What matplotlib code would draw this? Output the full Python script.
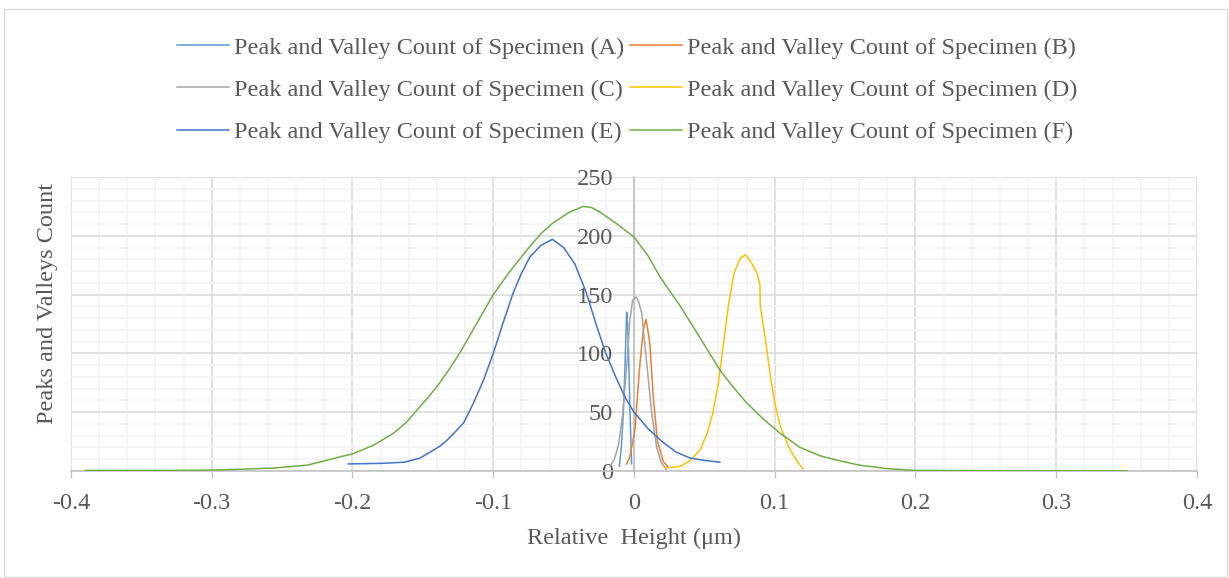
import numpy as np
import matplotlib.pyplot as plt
from matplotlib.patches import Rectangle

plt.rcParams['font.family'] = ['Liberation Serif', 'DejaVu Serif']

# ---- data ----
a_x = [-0.0104, -0.009, -0.0076, -0.0065, -0.0059, -0.0052, -0.0046, -0.004, -0.0028, -0.0017]
a_y = [4, 20, 49, 85, 110, 135, 125, 106, 49, 6]

b_x = [-0.0052, -0.003, -0.001, 0.0007, 0.0025, 0.0043, 0.0066, 0.0085, 0.0105, 0.0114,
       0.0137, 0.0166, 0.0208, 0.024]
b_y = [6, 12, 24, 35, 65, 92, 120, 129, 115, 106, 63, 26, 8, 4]

c_x = [-0.017, -0.014, -0.011, -0.008, -0.005, -0.003, -0.001, 0.0014, 0.003, 0.0055,
       0.009, 0.0126, 0.016, 0.019, 0.023]
c_y = [4, 10, 22, 49, 92, 128, 145, 148, 145, 134, 92, 49, 21, 8, 1]

d_x = [0.022, 0.027, 0.033, 0.04, 0.047, 0.052, 0.056, 0.06, 0.063, 0.067, 0.071, 0.075,
       0.079, 0.083, 0.0875, 0.0895, 0.0897, 0.093, 0.0966, 0.1, 0.104, 0.108, 0.111,
       0.115, 0.12]
d_y = [3, 3, 4, 9, 18, 32, 49, 75, 103, 140, 168, 180, 184, 178, 168, 158, 140, 115, 83,
       58, 38, 26, 18, 10, 1.7]

e_x = [-0.203, -0.18, -0.163, -0.152, -0.145, -0.138, -0.133, -0.128, -0.121, -0.114,
       -0.107, -0.1, -0.093, -0.086, -0.08, -0.074, -0.066, -0.058, -0.05, -0.042, -0.034,
       -0.027, -0.02, -0.013, -0.006, 0.0, 0.01, 0.02, 0.03, 0.04, 0.05, 0.061]
e_y = [6, 6.5, 7.5, 11, 16, 21, 26, 32, 41, 58, 77, 100, 126, 151, 168, 182, 192, 197,
       190, 176, 152, 125, 100, 80, 62, 50, 36, 25, 16, 11, 9, 7.5]

f_x = [-0.39, -0.33, -0.30, -0.28, -0.256, -0.232, -0.209, -0.20, -0.185, -0.171, -0.162,
       -0.154, -0.146, -0.138, -0.131, -0.124, -0.112, -0.10, -0.088, -0.076, -0.066,
       -0.0575, -0.046, -0.036, -0.03, -0.024, -0.012, 0.0, 0.01, 0.0185, 0.026, 0.033,
       0.047, 0.061, 0.07, 0.08, 0.092, 0.104, 0.118, 0.132, 0.145, 0.16, 0.18, 0.2,
       0.25, 0.3, 0.35]
f_y = [0.5, 0.5, 0.8, 1.5, 2.5, 5, 12, 14.5, 22, 32, 41, 52, 63, 75, 87, 100, 125, 150,
       170, 188, 202, 211, 220, 225, 224, 220, 210, 199, 183, 165, 152, 140, 113, 86, 72,
       58, 44, 32, 20, 13, 9, 5, 2, 0.5, 0.3, 0.2, 0.2]

labels = ["Peak and Valley Count of Specimen (A)", "Peak and Valley Count of Specimen (B)",
          "Peak and Valley Count of Specimen (C)", "Peak and Valley Count of Specimen (D)",
          "Peak and Valley Count of Specimen (E)", "Peak and Valley Count of Specimen (F)"]
colors = ["#5B9BD5", "#ED7D31", "#A5A5A5", "#FFC000", "#4472C4", "#70AD47"]

xs = [a_x, b_x, c_x, d_x, e_x, f_x]
ys = [a_y, b_y, c_y, d_y, e_y, f_y]

# ---- figure ----
fig = plt.figure(figsize=(12.29, 5.78), dpi=100)
ax = fig.add_axes([71/1229, 1-471/578, (1197-71)/1229, (471-177)/578])

txt = "#595959"
lines = []
for x, y, c, l in zip(xs, ys, colors, labels):
    ln, = ax.plot(x, y, color=c, lw=1.1, label=l, zorder=3)
    lines.append(ln)

ax.set_xlim(-0.4, 0.4)
ax.set_ylim(0, 250)
ax.set_xticks(np.arange(-0.4, 0.41, 0.1))
ax.set_xticks(np.arange(-0.4, 0.41, 0.02), minor=True)
ax.set_yticks(np.arange(0, 251, 50))
ax.set_yticks(np.arange(0, 251, 10), minor=True)
ax.set_xticklabels(["-0.4", "-0.3", "-0.2", "-0.1", "0", "0.1", "0.2", "0.3", "0.4"])

ax.grid(which='major', color="#D9D9D9", lw=1.1, zorder=0)
ax.grid(which='minor', color="#F2F2F2", lw=1.1, zorder=0)
ax.set_axisbelow(True)

for s in ['top', 'right']:
    ax.spines[s].set_visible(False)
ax.spines['left'].set_position(('data', 0))
ax.spines['left'].set_color("#BFBFBF")
ax.spines['bottom'].set_color("#BFBFBF")
ax.spines['left'].set_linewidth(1.1)
ax.spines['bottom'].set_linewidth(1.1)

ax.tick_params(axis='y', which='both', length=0, labelsize=17.5, labelcolor=txt, pad=15)
ax.tick_params(axis='x', which='major', length=5, color="#BFBFBF", labelsize=17.5,
               labelcolor=txt, pad=11)
ax.tick_params(axis='x', which='minor', length=0)

ax.set_xlabel("Relative  Height (\u03bcm)", fontsize=17.5, color=txt, labelpad=10)
fig.text(48/1229, 1-303/578, "Peaks and Valleys Count", rotation=90, fontsize=17.5,
         color=txt, ha='center', va='center')

# legend reads row by row: A B / C D / E F
order = [0, 2, 4, 1, 3, 5]
fig.legend([lines[i] for i in order], [labels[i] for i in order],
           loc='center', bbox_to_anchor=(627/1229, 1-90/578), ncol=2, frameon=False,
           fontsize=17.5, labelcolor=txt, handlelength=2.15, handletextpad=0.2,
           columnspacing=0.25, labelspacing=0.84)

fig.patches.append(Rectangle((4/1229, 0.002), 1223/1229, 1-9/578-0.002,
                             transform=fig.transFigure, fill=False,
                             edgecolor="#D9D9D9", lw=1.0))

fig.savefig("out.png", dpi=100)
